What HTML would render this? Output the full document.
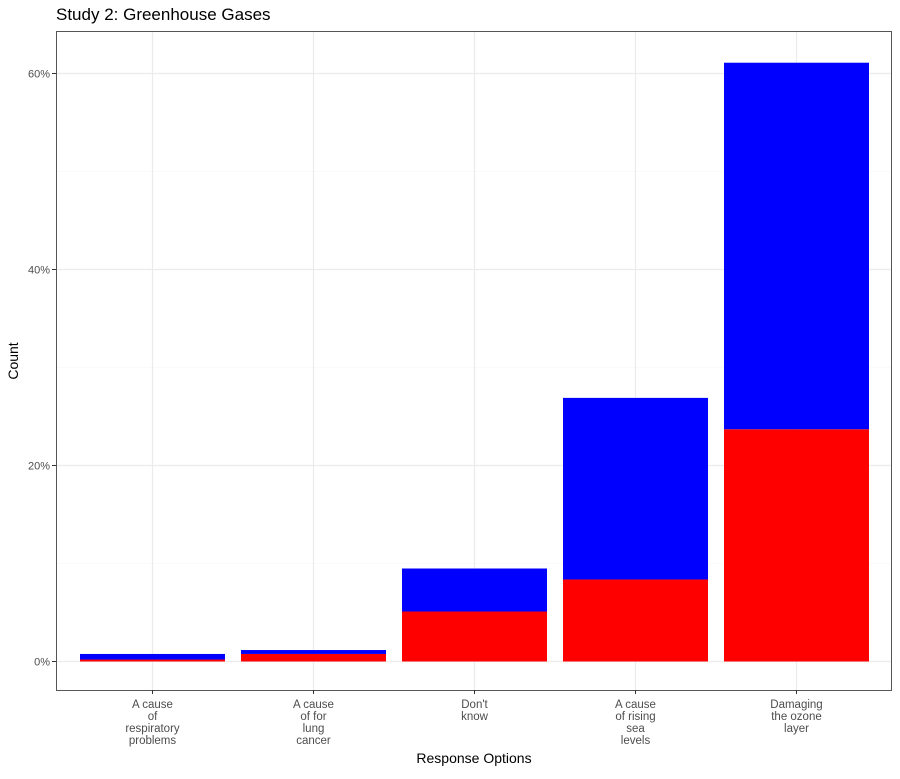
<!DOCTYPE html>
<html><head><meta charset="utf-8"><style>
body{margin:0;background:#fff;font-family:"Liberation Sans",sans-serif}
</style></head><body>
<svg id="chart" width="900" height="774" xmlns="http://www.w3.org/2000/svg">
<text x="56" y="20" font-size="17" fill="#000">Study 2: Greenhouse Gases</text>
<g id="grid"></g>
<g id="bars"></g>
<rect x="56.5" y="31.5" width="835" height="659" fill="none" stroke="#555" stroke-width="1"/>
<g id="yticks"></g>
<g id="xticks"></g>
<text x="474" y="763" font-size="14" text-anchor="middle">Response Options</text>
<text transform="translate(18,361) rotate(-90)" font-size="14" text-anchor="middle">Count</text>
</svg>
<script>
const categories=[["A cause","of","respiratory","problems"],["A cause","of for","lung","cancer"],["Don't","know"],["A cause","of rising","sea","levels"],["Damaging","the ozone","layer"]];
const redValues=[0.2,0.77,5.1,8.37,23.7];
const blueValues=[0.57,0.4,4.39,18.53,37.4];
const yTicks=[0,20,40,60];
const yTickLabels=["0%","20%","40%","60%"];
const NS="http://www.w3.org/2000/svg";
const y=v=>661.5-v*9.8;
const xc=i=>152.5+i*161;
const bw=145;
function mk(tag,attrs,parent){const e=document.createElementNS(NS,tag);for(const k in attrs)e.setAttribute(k,attrs[k]);parent.appendChild(e);return e;}
const grid=document.getElementById('grid'),bars=document.getElementById('bars'),yt=document.getElementById('yticks'),xt=document.getElementById('xticks');
for(let v=0;v<=60;v+=10){const yy=y(v);
 const l=mk('line',{x1:56,x2:892,y1:yy,y2:yy,stroke:v%20===0?'#ebebeb':'#f5f5f5','stroke-width':v%20===0?1.2:0.6},grid);
 
 }
categories.forEach((c,i)=>{const l=mk('line',{x1:xc(i),x2:xc(i),y1:31,y2:690,stroke:'#ebebeb','stroke-width':1.2},grid);
 
 });
yTicks.forEach((v,i)=>{
 const t=mk('line',{x1:52,x2:56,y1:y(v),y2:y(v),stroke:'#333'},yt);
 
 
 const tx=mk('text',{x:50,y:y(v)+4,'font-size':11,'text-anchor':'end',fill:'#4d4d4d'},yt);tx.textContent=yTickLabels[i];
 
 });
categories.forEach((c,i)=>{
 const r=mk('rect',{x:xc(i)-bw/2,y:y(redValues[i]),width:bw,height:y(0)-y(redValues[i]),fill:'#ff0000'},bars);
 
 
 const top=redValues[i]+blueValues[i];
 const b=mk('rect',{x:xc(i)-bw/2,y:y(top),width:bw,height:y(redValues[i])-y(top),fill:'#0000ff'},bars);
 
 
 const t=mk('line',{x1:xc(i),x2:xc(i),y1:690,y2:694,stroke:'#333'},xt);
 
 
 const tx=mk('text',{'font-size':11.5,'text-anchor':'middle',fill:'#4d4d4d'},xt);
 
 
 c.forEach((s,j)=>{const ts=mk('tspan',{x:xc(i),y:708+j*12},tx);ts.textContent=s;});
});
</script>
</body></html>
